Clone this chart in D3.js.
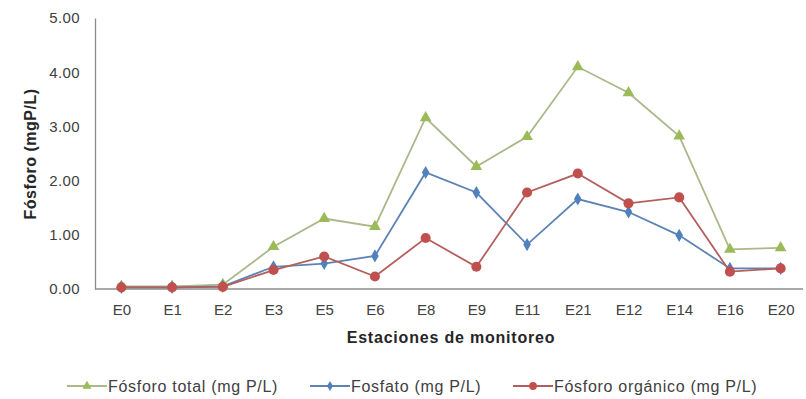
<!DOCTYPE html>
<html>
<head>
<meta charset="utf-8">
<script src="https://cdn.jsdelivr.net/npm/d3@7"></script>
<style>
  body { margin: 0; background: #fff; }
  text { font-family: "Liberation Sans", Arial, sans-serif; fill: #404040; }
</style>
</head>
<body>
<script>
// stations and series (mg P/L)
const estaciones = ['E0','E1','E2','E3','E5','E6','E8','E9','E11','E21','E12','E14','E16','E20'];
const fosforoTotal = [0.05, 0.05, 0.08, 0.78, 1.30, 1.15, 3.16, 2.26, 2.81, 4.10, 3.62, 2.82, 0.73, 0.76];
const fosfato      = [0.03, 0.03, 0.05, 0.41, 0.47, 0.61, 2.15, 1.78, 0.82, 1.66, 1.42, 0.99, 0.38, 0.38];
const organico     = [0.03, 0.03, 0.04, 0.35, 0.60, 0.23, 0.94, 0.41, 1.78, 2.13, 1.58, 1.69, 0.32, 0.38];
const yTicks = [0, 1, 2, 3, 4, 5];

const series = [
  {name: 'Fósforo total (mg P/L)', values: fosforoTotal, color: '#9bbb59', line: '#a9b98a', symbol: d3.symbolTriangle, size: 60},
  {name: 'Fosfato (mg P/L)', values: fosfato, color: '#4f81bd', line: '#5d83b5', symbol: d3.symbolDiamond, size: 50},
  {name: 'Fósforo orgánico (mg P/L)', values: organico, color: '#c0504d', line: '#b45f5d', symbol: d3.symbolCircle, size: 80}
];

const width = 806, height = 399;
const margin = {top: 18, right: 0, bottom: 110, left: 96};

const svg = d3.select('body').append('svg')
  .attr('width', width)
  .attr('height', height);

const x = d3.scalePoint()
  .domain(estaciones)
  .range([margin.left, width])
  .padding(0.5);

const y = d3.scaleLinear()
  .domain([0, 5])
  .range([height - margin.bottom, margin.top]);

// y axis
const yAxis = d3.axisLeft(y).tickValues(yTicks).tickFormat(d3.format('.2f')).tickSize(0).tickPadding(15);
const gy = svg.append('g')
  .attr('transform', `translate(${margin.left - 1},0)`)
  .call(yAxis);
gy.select('.domain').attr('stroke', '#8c8c8c').attr('stroke-width', 1.3);
gy.selectAll('text').attr('font-size', 15).style('fill', '#404040').style('letter-spacing', '0.4px');

// x axis
const xAxis = d3.axisBottom(x).tickSize(0).tickPadding(15);
const gx = svg.append('g')
  .attr('transform', `translate(0,${y(0)})`)
  .call(xAxis);
gx.select('.domain').attr('d', `M${margin.left - 1},0H803`).attr('stroke', '#8c8c8c').attr('stroke-width', 1.3);
gx.selectAll('text').attr('font-size', 15).style('fill', '#404040');

// lines and markers
const line = d3.line()
  .x((d, i) => x(estaciones[i]))
  .y(d => y(d));

series.forEach(s => {
  svg.append('path')
    .datum(s.values)
    .attr('fill', 'none')
    .attr('stroke', s.line)
    .attr('stroke-width', 1.8)
    .attr('d', line);
  svg.append('g')
    .selectAll('path')
    .data(s.values)
    .join('path')
    .attr('d', d3.symbol().type(s.symbol).size(s.size))
    .attr('transform', (d, i) => `translate(${x(estaciones[i])},${y(d)})`)
    .attr('fill', s.color);
});

// axis titles
svg.append('text')
  .attr('x', (margin.left + width) / 2)
  .attr('y', 343)
  .attr('text-anchor', 'middle')
  .attr('font-size', 16)
  .attr('font-weight', 'bold')
  .style('letter-spacing', '0.8px')
  .style('fill', '#262626')
  .text('Estaciones de monitoreo');

svg.append('text')
  .attr('transform', 'translate(36,154) rotate(-90)')
  .attr('text-anchor', 'middle')
  .attr('font-size', 16)
  .attr('font-weight', 'bold')
  .style('letter-spacing', '0.5px')
  .style('fill', '#262626')
  .text('Fósforo (mgP/L)');

// legend
const legendX = [67, 310, 513];
const lg = svg.append('g').selectAll('g')
  .data(series)
  .join('g')
  .attr('transform', (d, i) => `translate(${legendX[i]},386)`);

lg.append('line')
  .attr('x1', 0).attr('x2', 40)
  .attr('stroke', d => d.line)
  .attr('stroke-width', 1.8);
lg.append('path')
  .attr('d', d => d3.symbol().type(d.symbol).size(d.size * 0.6)())
  .attr('transform', 'translate(20,0)')
  .attr('fill', d => d.color);
lg.append('text')
  .attr('x', 41)
  .attr('dy', '0.35em')
  .attr('font-size', 16)
  .style('letter-spacing', '0.7px')
  .style('fill', '#404040')
  .text(d => d.name);
</script>
</body>
</html>
